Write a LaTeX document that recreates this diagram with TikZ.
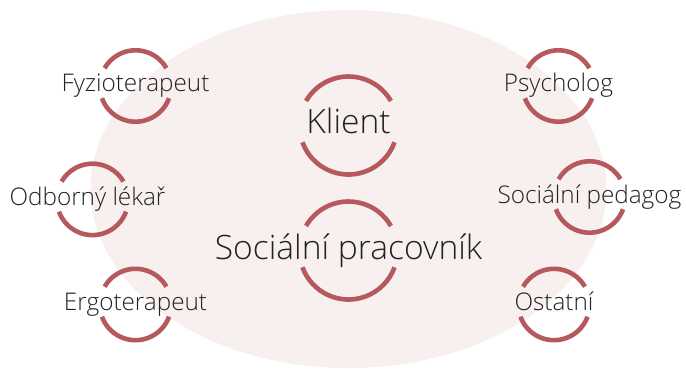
\documentclass[tikz,border=0pt]{standalone}
\usepackage{fontspec}
\setmainfont{Open Sans}[UprightFont=* Light]
\definecolor{arccol}{HTML}{B5595E}
\definecolor{bgcol}{HTML}{F8F0EF}
\definecolor{txtcol}{HTML}{222222}
\tikzset{
  ringline/.style={draw=arccol, line width=4.6pt},
  smalllbl/.style={anchor=base, inner sep=0pt, text=txtcol, font=\fontsize{24.3}{28}\selectfont},
  biglbl/.style={anchor=base, inner sep=0pt, text=txtcol, font=\fontsize{33.6}{38}\selectfont},
}
\newcommand\myring[2]{%
  \draw[ringline] ([shift={(30:#2)}]#1) arc[start angle=30,end angle=150,radius=#2];
  \draw[ringline] ([shift={(200:#2)}]#1) arc[start angle=200,end angle=340,radius=#2];}
\begin{document}
\begin{tikzpicture}[x=1pt,y=-1pt]
\useasboundingbox (0,0) rectangle (686,369);
\fill[bgcol] (348.5,189) ellipse [x radius=258pt, y radius=179pt];
% centres
\coordinate (cfyz) at (135.5,86);
\coordinate (codb) at (92.5,199.4);
\coordinate (cerg) at (135.5,304.5);
\coordinate (cpsy) at (558.5,86);
\coordinate (cped) at (589.5,197);
\coordinate (cost) at (554,304.5);
\coordinate (ckli) at (348.5,125.5);
\coordinate (csoc) at (348.5,250.5);
% rings
\myring{cfyz}{35.7pt}
\myring{codb}{35.7pt}
\myring{cerg}{35.7pt}
\myring{cpsy}{35.7pt}
\myring{cped}{35.7pt}
\myring{cost}{35.7pt}
\myring{ckli}{49pt}
\myring{csoc}{49pt}
% labels
\node[smalllbl] (fyz) at ([yshift=-6pt]cfyz) {Fyzioterapeut};
\node[smalllbl] (odb) at ([xshift=-5pt,yshift=-5.6pt]codb) {Odborný lékař};
\node[smalllbl] (erg) at ([yshift=-6pt]cerg) {Ergoterapeut};
\node[smalllbl] (psy) at ([yshift=-6pt]cpsy) {Psycholog};
\node[smalllbl] (ped) at ([yshift=-6pt]cped) {Sociální pedagog};
\node[smalllbl] (ost) at ([yshift=-6pt]cost) {Ostatní};
\node[biglbl] (kli) at ([yshift=-8pt]ckli) {Klient};
\node[biglbl] (soc) at ([yshift=-9pt]csoc) {Sociální pracovník};
\end{tikzpicture}
\end{document}
